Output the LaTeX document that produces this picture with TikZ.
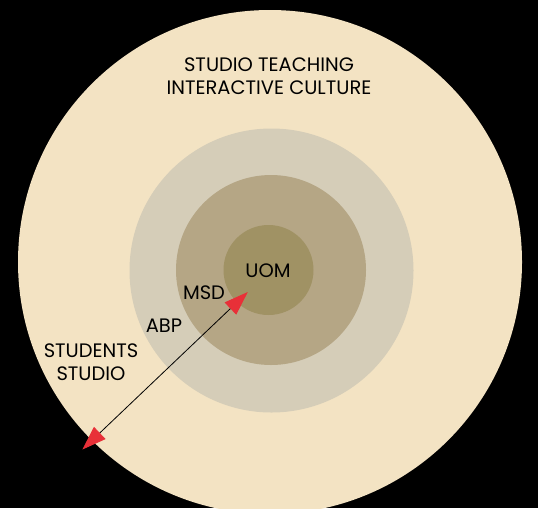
\documentclass[tikz,border=0pt]{standalone}
\usepackage{fontspec}
\setmainfont{Poppins}
\usetikzlibrary{arrows.meta}

\definecolor{outerBeige}{RGB}{243,227,195}
\definecolor{abpGrey}{RGB}{213,205,184}
\definecolor{msdBrown}{RGB}{181,166,133}
\definecolor{uomBrown}{RGB}{160,146,100}
\definecolor{tipRed}{RGB}{232,48,56}

\tikzset{every picture/.style={line width=0.75pt}}
\tikzset{ringlabel/.style={inner sep=0.75pt, align=center, font=\fontsize{14.6}{17}\selectfont}}

\begin{document}
\begin{tikzpicture}[x=0.75pt,y=0.75pt,yscale=-1,xscale=1]
        %background and frame, diagram is 538 x 508
        \fill[black] (0,0) rectangle (538,508);
        \clip (0,0) rectangle (538,508);

        %Shape: Circle [outer, studio teaching]
        \fill[outerBeige] (270,262) circle [radius=252];
        %Shape: Circle [ABP]
        \fill[abpGrey] (271.5,270.5) circle [radius=142];
        %Shape: Circle [MSD]
        \fill[msdBrown] (271,270) circle [radius=95];
        %Shape: Circle [UOM]
        \fill[uomBrown] (268.5,270) circle [radius=45];

        % Text Node
        \node [ringlabel] (culture) at (269,76.5) {STUDIO TEACHING\\INTERACTIVE CULTURE};
        % Text Node
        \node [ringlabel] (uom) at (268,271) {UOM};
        % Text Node
        \node [ringlabel] (msd) at (204,293) {MSD};
        % Text Node
        \node [ringlabel] (abp) at (164,325.5) {ABP};
        % Text Node
        \node [ringlabel] (students) at (91,362.5) {STUDENTS\\STUDIO};

        %Straight Lines [arrow across the rings]
        \coordinate (innerTip) at (247.8,292);
        \coordinate (outerTip) at (82.4,449.5);
        \draw [line width=0.6pt, {Triangle[color=tipRed,length=18pt,width=12.5pt]}-{Triangle[color=tipRed,length=18pt,width=12.5pt]}] (outerTip) -- (innerTip);

\end{tikzpicture}
\end{document}
